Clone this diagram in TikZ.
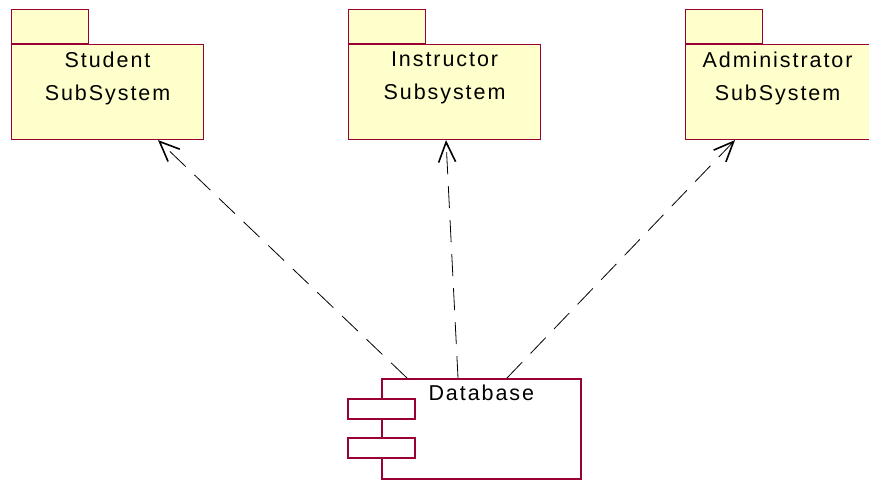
\documentclass[tikz,border=0pt]{standalone}
\usepackage{fontspec}
\setmainfont{Liberation Sans}[LetterSpace=9]
\usepackage{tikz}
\usetikzlibrary{arrows.meta,positioning}
\definecolor{pkgfill}{HTML}{FFFFCC}
\definecolor{umlred}{HTML}{990033}
\tikzstyle{pkg}=[draw=umlred,fill=pkgfill,line width=1.1pt,rectangle,inner sep=0,
  minimum width=192pt,minimum height=95pt,anchor=north west]
\tikzstyle{tab}=[draw=umlred,fill=pkgfill,line width=1.1pt,rectangle,inner sep=0,
  minimum width=77pt,minimum height=34pt,anchor=south west]
\tikzstyle{lbl}=[align=center,inner sep=0,anchor=north,font=\fontsize{21.5}{33}\selectfont]
\tikzstyle{comp}=[draw=umlred,fill=white,line width=1.6pt,rectangle,inner sep=0,anchor=north west]
\tikzstyle{dep}=[draw,black,line width=0.8pt,dash pattern=on 22pt off 12pt,
  -{Straight Barb[length=20pt,width=17pt,line width=1.6pt]}]

\begin{document}
\begin{tikzpicture}[x=1pt,y=-1pt]
	\useasboundingbox (0,0) rectangle (869,479);
	% packages
	\node[pkg] (st) at (11,44) {};
	\node[tab] (st-tab) at (st.north west) {};
	\node[lbl] (st-txt) at ([yshift=-8pt]st.north) {Student\\SubSystem};
	
	\node[pkg] (in) at (348,44) {};
	\node[tab] (in-tab) at (in.north west) {};
	\node[lbl] (in-txt) at ([yshift=-8pt]in.north) {Instructor\\Subsystem};
	
	\node[pkg] (ad) at (685,44) {};
	\node[tab] (ad-tab) at (ad.north west) {};
	\node[lbl] (ad-txt) at ([xshift=-4pt,yshift=-8pt]ad.north) {Administrator\\SubSystem};
	
	% component
	\node[comp,minimum width=199pt,minimum height=100pt] (db) at (381,378) {};
	\node[comp,minimum width=67pt,minimum height=20pt] (db-p1) at (347,398) {};
	\node[comp,minimum width=67pt,minimum height=20pt] (db-p2) at (347,437) {};
	\node[lbl,font=\fontsize{21.5}{25}\selectfont] (db-txt) at ([yshift=-7pt]db.north) {Database};
	
	% dependencies
	\path[dep] ([xshift=26pt]db.north west) -- ([xshift=147pt]st.south west);
	\path[dep] ([xshift=77pt]db.north west) -- ([xshift=98pt]in.south west);
	\path[dep] ([xshift=126pt]db.north west) -- ([xshift=50pt]ad.south west);
\end{tikzpicture}
\end{document}
